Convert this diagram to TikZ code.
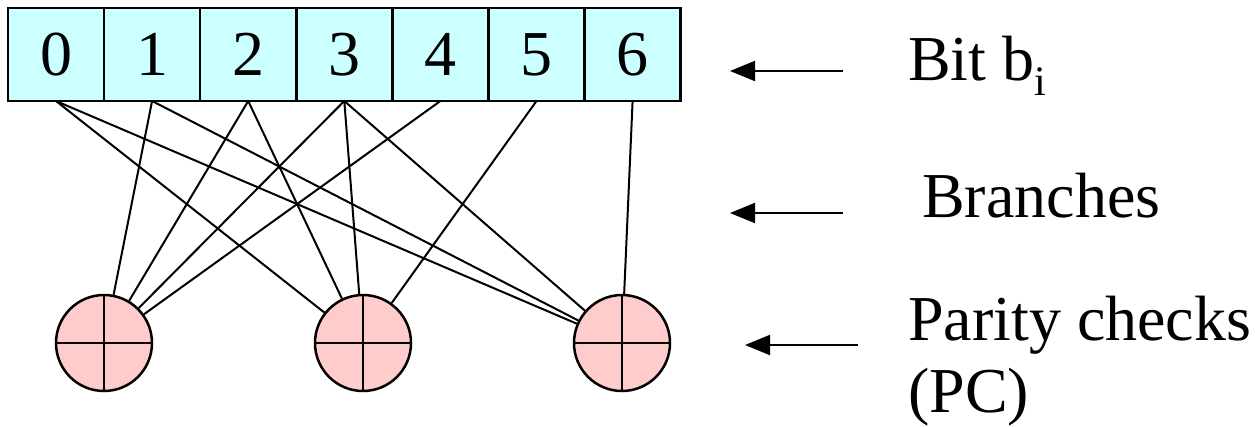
\documentclass[tikz,border=0pt]{standalone}
\usepackage{fontspec}
\newfontfamily\timesfont{Liberation Serif}
\usetikzlibrary{positioning,arrows.meta}
\definecolor{bitcyan}{RGB}{204,255,255}
\definecolor{pcpink}{RGB}{255,204,204}
\tikzset{
  bitbox/.style={rectangle, draw=black, line width=2.5pt, fill=bitcyan, minimum width=96.1pt, minimum height=93pt, inner sep=0pt, outer sep=0pt, font=\timesfont\fontsize{64}{64}\selectfont},
  pcnode/.style={circle, draw=black, line width=2.5pt, fill=pcpink, minimum size=96pt, inner sep=0pt,
    path picture={\draw[line width=2.2pt] (path picture bounding box.north) -- (path picture bounding box.south)
      (path picture bounding box.west) -- (path picture bounding box.east);}},
  branch/.style={line width=2pt},
  pointer/.style={-{Triangle[length=25pt,width=20pt]}, line width=2pt},
  lbl/.style={font=\timesfont\fontsize{64}{72}\selectfont, inner sep=0pt, anchor=base west}
}

\begin{document}
\begin{tikzpicture}[x=1pt, y=-1pt]
  \useasboundingbox (0,0) rectangle (1255,426);

  % bit row
  \node[bitbox] (b0) at (56,54.5) {\raisebox{-4pt}{0}};
  \foreach \i [count=\j from 0] in {1,...,6}
    \node[bitbox, right=0pt of b\j] (b\i) {\raisebox{-4pt}{\i}};

  % parity checks
  \node[pcnode] (pc1) at (104,343) {};
  \node[pcnode, right=160.5pt of pc1] (pc2) {};
  \node[pcnode, right=160.5pt of pc2] (pc3) {};

  % branches bit -> PC
  \foreach \b/\p in {1/1,2/1,3/1,4/1, 0/2,2/2,3/2,5/2, 0/3,1/3,3/3,6/3}
    \draw[branch] (b\b.south) -- (pc\p);

  % labels on the right
  \node[lbl] (bitlbl) at (908,80) {Bit b\raisebox{-15pt}{\fontsize{42}{42}\selectfont i}};
  \node[lbl] (brlbl) at (922,217) {Branches};
  \node[lbl] (pclbl) at (908,340) {Parity checks};
  \node[lbl] (pcabbr) at (908,412) {(PC)};

  \coordinate (bitTail) at (843,71);  \coordinate (bitTip) at (730,71);
  \coordinate (brTail) at (843,213);  \coordinate (brTip) at (730,213);
  \coordinate (pcTail) at (858,345);  \coordinate (pcTip) at (745,345);
  \draw[pointer] (bitTail) -- (bitTip);
  \draw[pointer] (brTail) -- (brTip);
  \draw[pointer] (pcTail) -- (pcTip);
\end{tikzpicture}
\end{document}
